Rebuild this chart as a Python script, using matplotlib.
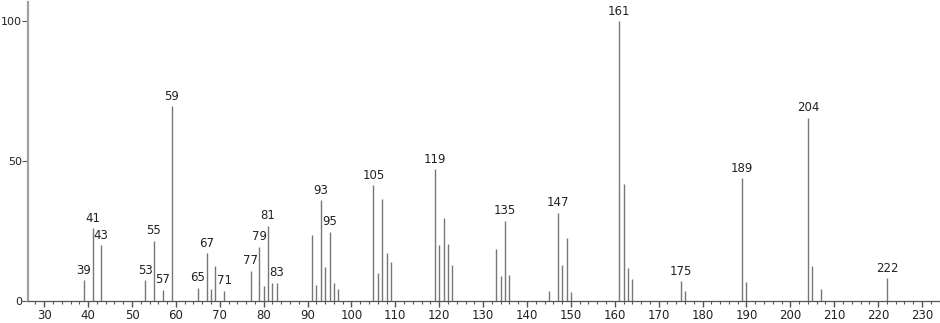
import matplotlib
matplotlib.use("Agg")
import matplotlib.pyplot as plt
from matplotlib.ticker import MultipleLocator

mz = [39, 41, 43, 53, 55, 57, 59, 65, 67, 68, 69, 71, 77, 79, 80, 81, 82, 83,
      91, 92, 93, 94, 95, 96, 97, 105, 106, 107, 108, 109,
      119, 120, 121, 122, 123, 133, 134, 135, 136, 145, 147, 148, 149, 150,
      161, 162, 163, 164, 175, 176, 189, 190, 204, 205, 207, 222]
intensity = [7.5, 26, 20, 7.5, 21.5, 4, 69.6, 4.8, 17, 4.2, 12.5, 3.6, 10.8, 19.3, 5.5, 26.8, 6.3, 6.5,
             23.7, 5.7, 36, 12.3, 24.8, 6.5, 4.2, 41.3, 10.1, 36.3, 17, 13.8,
             47.1, 20, 29.6, 20.5, 12.7, 18.7, 9, 28.6, 9.3, 3.7, 31.5, 12.9, 22.4, 3.3,
             100, 41.7, 11.9, 7.7, 7.1, 3.6, 43.9, 6.8, 65.5, 12.5, 4.4, 8.2]
labeled = [39, 41, 43, 53, 55, 57, 59, 65, 67, 71, 77, 79, 81, 83, 93, 95, 105,
           119, 135, 147, 161, 175, 189, 204, 222]
x_ticks = list(range(30, 231, 10))
y_ticks = [0, 50, 100]

plt.rcParams['font.family'] = ['DejaVu Sans']
fig = plt.figure(figsize=(9.4, 3.23), dpi=100)
ax = fig.add_axes([28/940, 22/323, 1 - 28/940, 299/323])

ax.vlines(mz, 0, intensity, colors='#777777', linewidth=1.0)
lookup = dict(zip(mz, intensity))
for m in labeled:
    ax.annotate(str(m), (m, lookup[m]), xytext=(0, 2.5), textcoords='offset points',
                ha='center', va='bottom', fontsize=8.5, color='#222222')

ax.set_xlim(26.3, 234.1)
ax.set_ylim(0, 106.8)
ax.set_xticks(x_ticks)
ax.xaxis.set_minor_locator(MultipleLocator(2))
ax.set_yticks(y_ticks)
ax.tick_params(axis='x', which='major', length=4, width=1, color='#555555',
               labelsize=8.5, labelcolor='#222222', pad=2)
ax.tick_params(axis='x', which='minor', length=2.5, width=0.8, color='#555555')
ax.tick_params(axis='y', which='major', length=4, width=0.8, color='#555555',
               labelsize=8, labelcolor='#222222', pad=0.5)
for s in ['top', 'right']:
    ax.spines[s].set_visible(False)
ax.spines['left'].set_color('#a0a0a0')
ax.spines['left'].set_linewidth(1.6)
ax.spines['bottom'].set_color('#555555')
ax.spines['bottom'].set_linewidth(0.9)
ax.patch.set_alpha(0)

fig.savefig('out.png', dpi=100)
